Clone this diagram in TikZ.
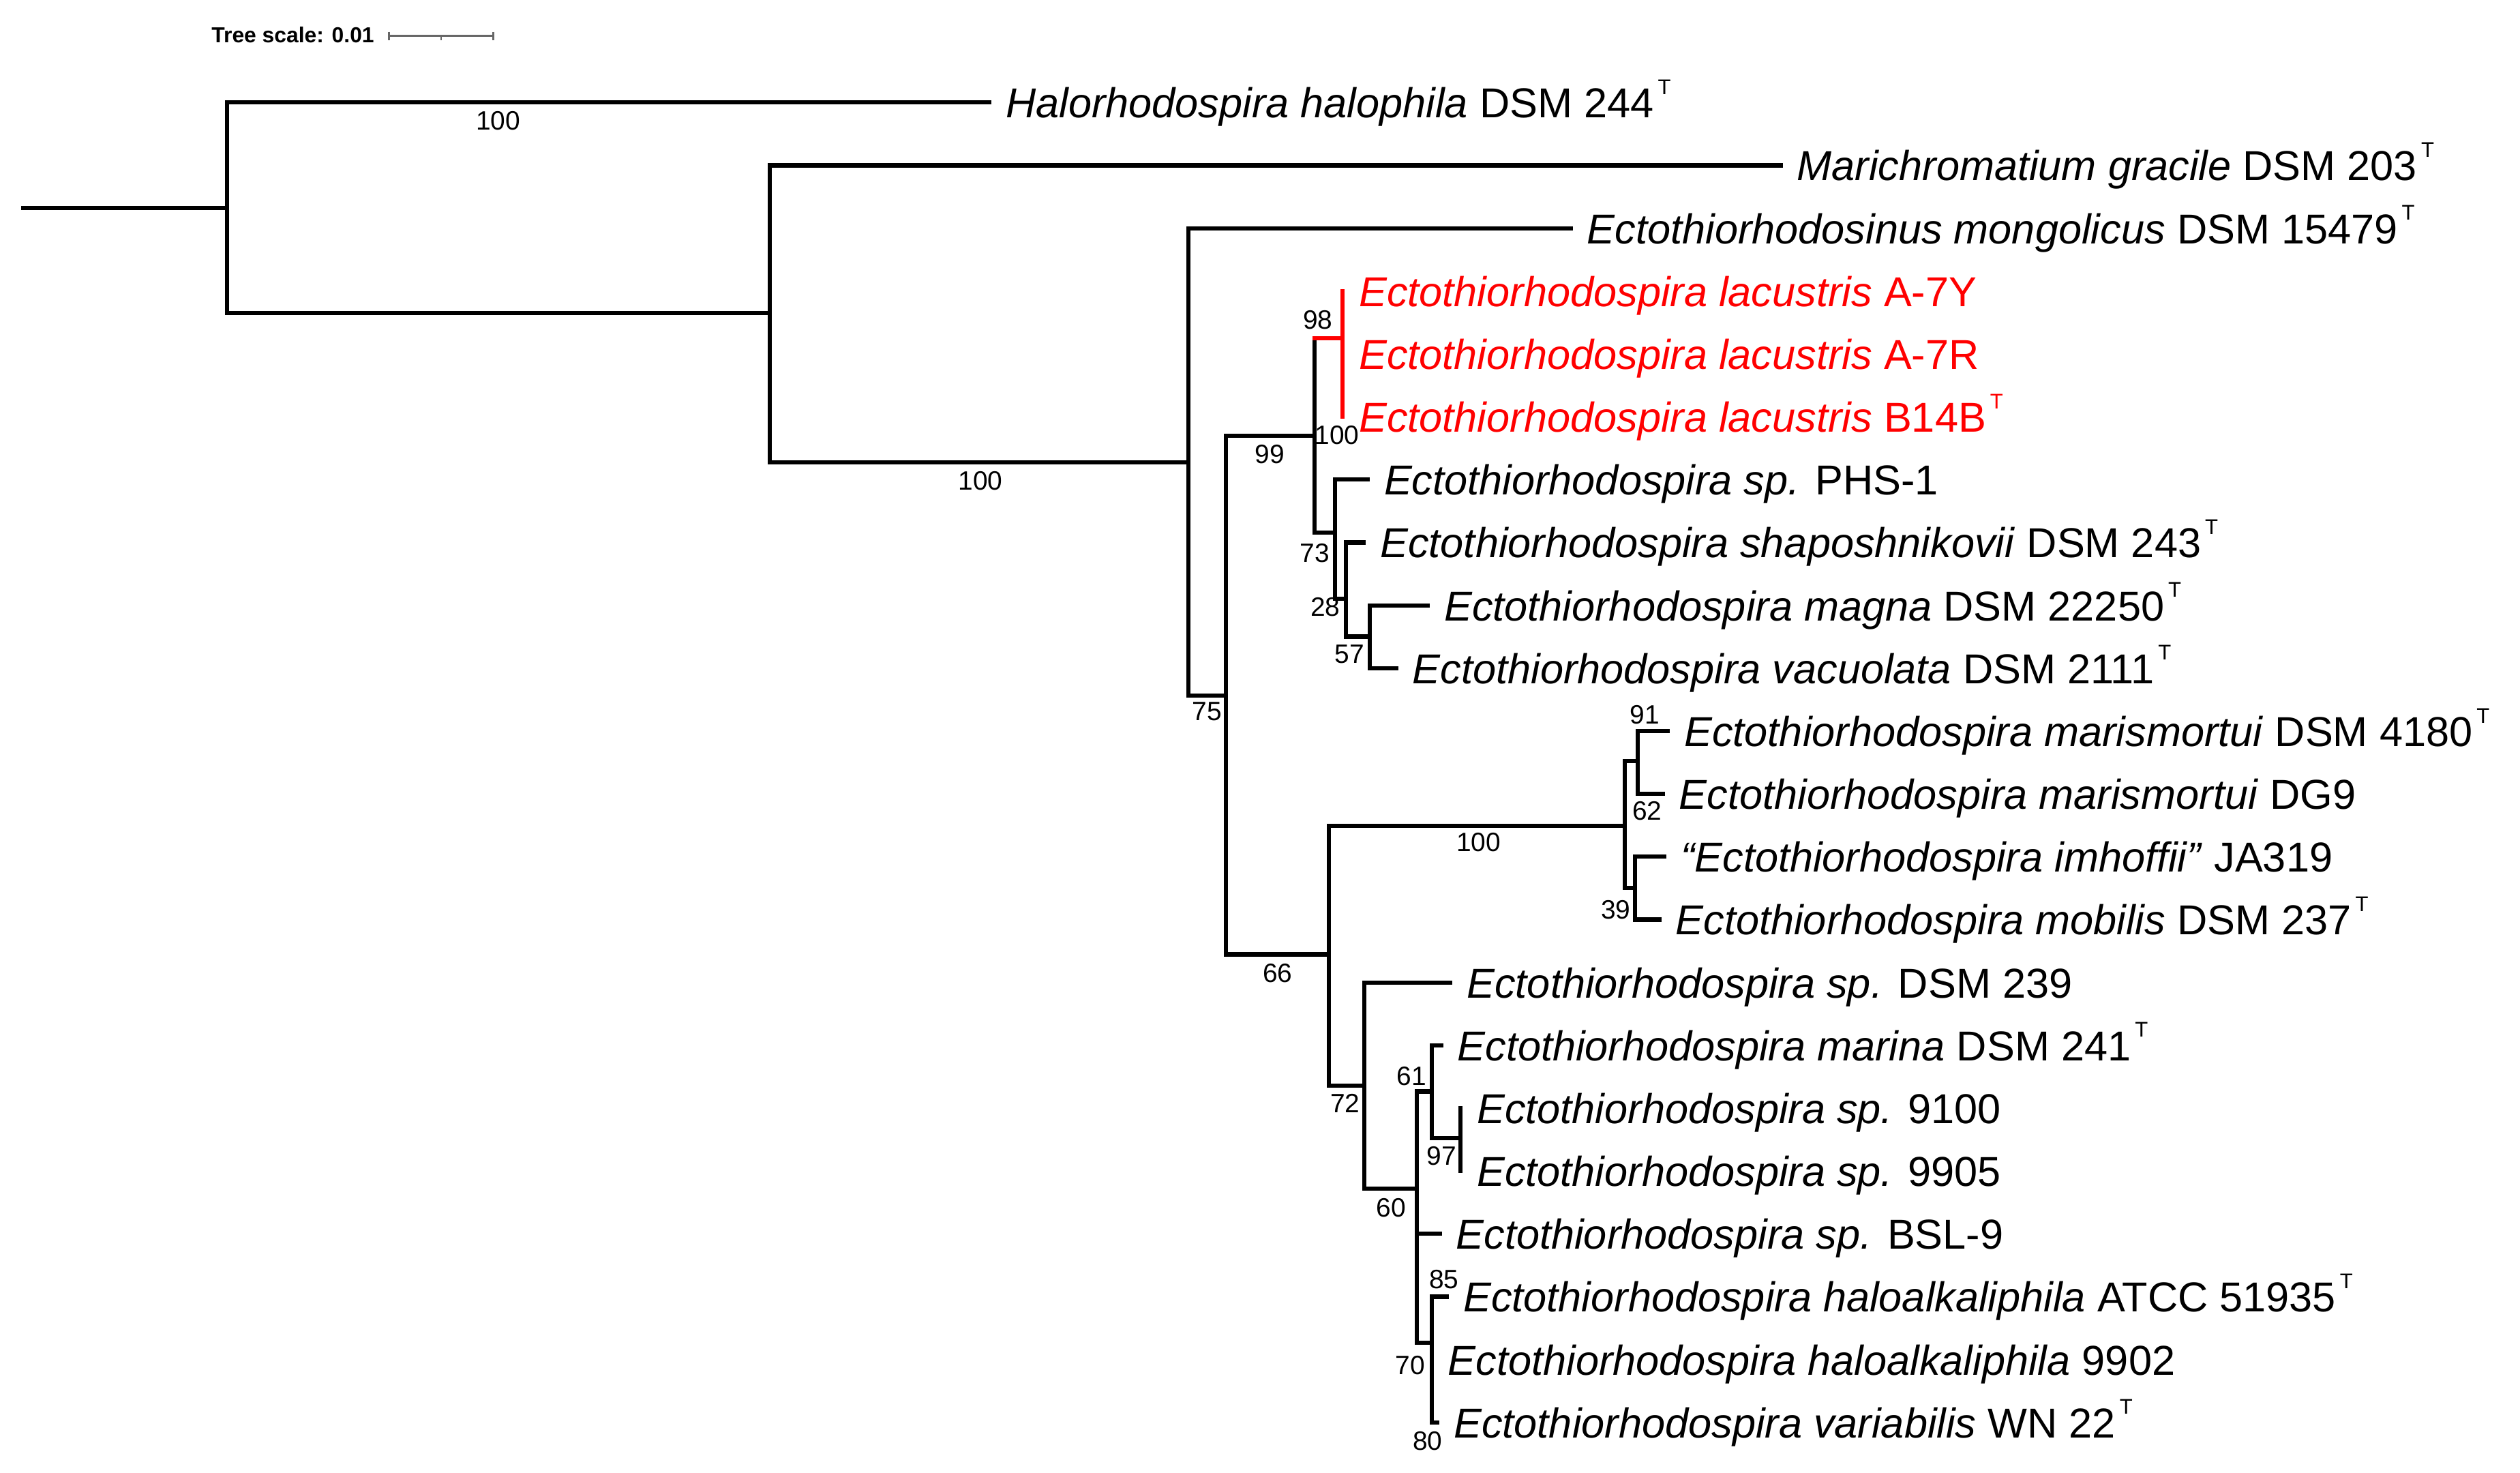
\documentclass[tikz,border=0pt]{standalone}
\usepackage{fontspec}
\setmainfont{Liberation Sans}
\newcommand{\TyS}{\hspace{2.5pt}\raisebox{14.6pt}{\fontsize{13.2}{14}\selectfont T}}
\tikzset{
  br/.style={line width=2.6pt, line join=miter, line cap=rect, draw=black},
  redbr/.style={br, draw=red},
  leaf/.style={anchor=base west, inner sep=0pt, xshift=10pt, yshift=-9.5pt, font=\fontsize{26}{28}\selectfont},
  redleaf/.style={leaf, text=red},
  boot/.style={inner sep=0pt, font=\fontsize{16.5}{18}\selectfont},
  scalebar/.style={line width=1.2pt, draw=black!60},
}
\begin{document}
\begin{tikzpicture}[x=1pt,y=-1pt]
\useasboundingbox (0,0) rectangle (1568,916);
% leaf rows
\def\ly#1{63.8+39.1*(#1-1)}
% internal nodes
\coordinate (R0) at (14.6,129.4);
\coordinate (A) at (141.2,129.4);
\coordinate (B) at (478.8,194.9);
\coordinate (C) at (739.4,287.6);
\coordinate (D) at (762.7,432.8);
\coordinate (E) at (817.8,271);
\coordinate (Lac) at (835.4,210.5);
\coordinate (G) at (830.7,331.2);
\coordinate (H) at (837.5,372.3);
\coordinate (I) at (852.4,396);
\coordinate (F) at (826.8,593.7);
\coordinate (J) at (1010.8,513.7);
\coordinate (K) at (1018.9,473.5);
\coordinate (L) at (1017.5,552.3);
\coordinate (M) at (849,675.3);
\coordinate (N) at (881.4,739.6);
\coordinate (O) at (890.8,679);
\coordinate (P) at (908.8,708.2);
\coordinate (Q) at (890.8,835.3);
% tips
\coordinate (t1) at (615.6,{\ly{1}});
\coordinate (t2) at (1108,{\ly{2}});
\coordinate (t3) at (977.3,{\ly{3}});
\coordinate (t4) at (835.4,{\ly{4}});
\coordinate (t5) at (835.4,{\ly{5}});
\coordinate (t6) at (835.4,{\ly{6}});
\coordinate (t7) at (851,{\ly{7}});
\coordinate (t8) at (848.6,{\ly{8}});
\coordinate (t9) at (888.4,{\ly{9}});
\coordinate (t10) at (868.7,{\ly{10}});
\coordinate (t11) at (1037.8,{\ly{11}});
\coordinate (t12) at (1034.6,{\ly{12}});
\coordinate (t13) at (1035.6,{\ly{13}});
\coordinate (t14) at (1032.4,{\ly{14}});
\coordinate (t15) at (902.5,{\ly{15}});
\coordinate (t16) at (896.6,{\ly{16}});
\coordinate (t17) at (908.8,{\ly{17}});
\coordinate (t18) at (908.8,{\ly{18}});
\coordinate (t19) at (895.8,{\ly{19}});
\coordinate (t20) at (900.3,{\ly{20}});
\coordinate (t21) at (890.8,{\ly{21}});
\coordinate (t22) at (894.4,{\ly{22}});
% branches
\draw[br] (R0) -- (A);
\draw[br] (A) |- (t1);
\draw[br] (A) |- (B);
\draw[br] (B) |- (t2);
\draw[br] (B) |- (C);
\draw[br] (C) |- (t3);
\draw[br] (C) |- (D);
\draw[br] (D) |- (E);
\draw[br] (D) |- (F);
\draw[br] (E) -- (E |- Lac);
\draw[redbr] (E |- Lac) -- (Lac);
\draw[redbr] (Lac) |- (t4);
\draw[redbr] (Lac) |- (t5);
\draw[redbr] (Lac) |- (t6);
\draw[br] (E) |- (G);
\draw[br] (G) |- (t7);
\draw[br] (G) |- (H);
\draw[br] (H) |- (t8);
\draw[br] (H) |- (I);
\draw[br] (I) |- (t9);
\draw[br] (I) |- (t10);
\draw[br] (F) |- (J);
\draw[br] (F) |- (M);
\draw[br] (J) |- (K);
\draw[br] (J) |- (L);
\draw[br] (K) |- (t11);
\draw[br] (K) |- (t12);
\draw[br] (L) |- (t13);
\draw[br] (L) |- (t14);
\draw[br] (M) |- (t15);
\draw[br] (M) |- (N);
\draw[br] (N) |- (O);
\draw[br] (N) |- (t19);
\draw[br] (N) |- (Q);
\draw[br] (O) |- (t16);
\draw[br] (O) |- (P);
\draw[br] (P) |- (t17);
\draw[br] (P) |- (t18);
\draw[br] (Q) |- (t20);
\draw[br] (Q) |- (t21);
\draw[br] (Q) |- (t22);
% leaf labels
\node[leaf] (l1) at (t1) {\textit{Halorhodospira halophila} DSM 244\TyS};
\node[leaf] (l2) at (t2) {\textit{Marichromatium gracile} DSM 203\TyS};
\node[leaf] (l3) at (t3) {\textit{Ectothiorhodosinus mongolicus} DSM 15479\TyS};
\node[redleaf] (l4) at (t4) {\textit{Ectothiorhodospira lacustris} A-7Y};
\node[redleaf] (l5) at (t5) {\textit{Ectothiorhodospira lacustris} A-7R};
\node[redleaf] (l6) at (t6) {\textit{Ectothiorhodospira lacustris} B14B\TyS};
\node[leaf] (l7) at (t7) {\textit{Ectothiorhodospira sp.} PHS-1};
\node[leaf] (l8) at (t8) {\textit{Ectothiorhodospira shaposhnikovii} DSM 243\TyS};
\node[leaf] (l9) at (t9) {\textit{Ectothiorhodospira magna} DSM 22250\TyS};
\node[leaf] (l10) at (t10) {\textit{Ectothiorhodospira vacuolata} DSM 2111\TyS};
\node[leaf] (l11) at (t11) {\textit{Ectothiorhodospira marismortui} DSM 4180\TyS};
\node[leaf] (l12) at (t12) {\textit{Ectothiorhodospira marismortui} DG9};
\node[leaf] (l13) at (t13) {\textit{“Ectothiorhodospira imhoffii”} JA319};
\node[leaf] (l14) at (t14) {\textit{Ectothiorhodospira mobilis} DSM 237\TyS};
\node[leaf] (l15) at (t15) {\textit{Ectothiorhodospira sp.} DSM 239};
\node[leaf] (l16) at (t16) {\textit{Ectothiorhodospira marina} DSM 241\TyS};
\node[leaf] (l17) at (t17) {\textit{Ectothiorhodospira sp.} 9100};
\node[leaf] (l18) at (t18) {\textit{Ectothiorhodospira sp.} 9905};
\node[leaf] (l19) at (t19) {\textit{Ectothiorhodospira sp.} BSL-9};
\node[leaf] (l20) at (t20) {\textit{Ectothiorhodospira haloalkaliphila} ATCC 51935\TyS};
\node[leaf] (l21) at (t21) {\textit{Ectothiorhodospira haloalkaliphila} 9902};
\node[leaf] (l22) at (t22) {\textit{Ectothiorhodospira variabilis} WN 22\TyS};
% bootstrap values
\node[boot] (b1) at (310,75) {100};
\node[boot] (b2) at (610,299) {100};
\node[boot] (b3) at (820,199) {98};
\node[boot] (b4) at (832,270.6) {100};
\node[boot] (b5) at (790,282.5) {99};
\node[boot] (b6) at (818,344) {73};
\node[boot] (b7) at (824.6,377.6) {28};
\node[boot] (b8) at (839.6,407) {57};
\node[boot] (b9) at (751,442.5) {75};
\node[boot] (b10) at (1023.5,444.7) {91};
\node[boot] (b11) at (1024.9,504.3) {62};
\node[boot] (b12) at (920,524) {100};
\node[boot] (b13) at (1005.3,566.1) {39};
\node[boot] (b14) at (795,605.3) {66};
\node[boot] (b15) at (878.2,669.6) {61};
\node[boot] (b16) at (897.1,719.3) {97};
\node[boot] (b17) at (837,686.3) {72};
\node[boot] (b18) at (865.5,751.2) {60};
\node[boot] (b19) at (898.5,796.1) {85};
\node[boot] (b20) at (877.4,849.4) {70};
\node[boot] (b21) at (888.2,896.5) {80};
% tree scale
\node[anchor=west, inner sep=0pt, font=\fontsize{13.5}{14}\selectfont\bfseries] (ts) at (131.5,21.5) {Tree scale: 0.01};
\coordinate (s1) at (242,22.4);
\coordinate (s2) at (307,22.4);
\coordinate (sm) at (274.5,22.4);
\draw[scalebar] (s1) -- (s2);
\draw[scalebar] ([yshift=2.6pt]s1) -- ([yshift=-2.6pt]s1);
\draw[scalebar] ([yshift=2.6pt]s2) -- ([yshift=-2.6pt]s2);
\draw[scalebar] (sm) -- ([yshift=-2.6pt]sm);
\end{tikzpicture}
\end{document}
